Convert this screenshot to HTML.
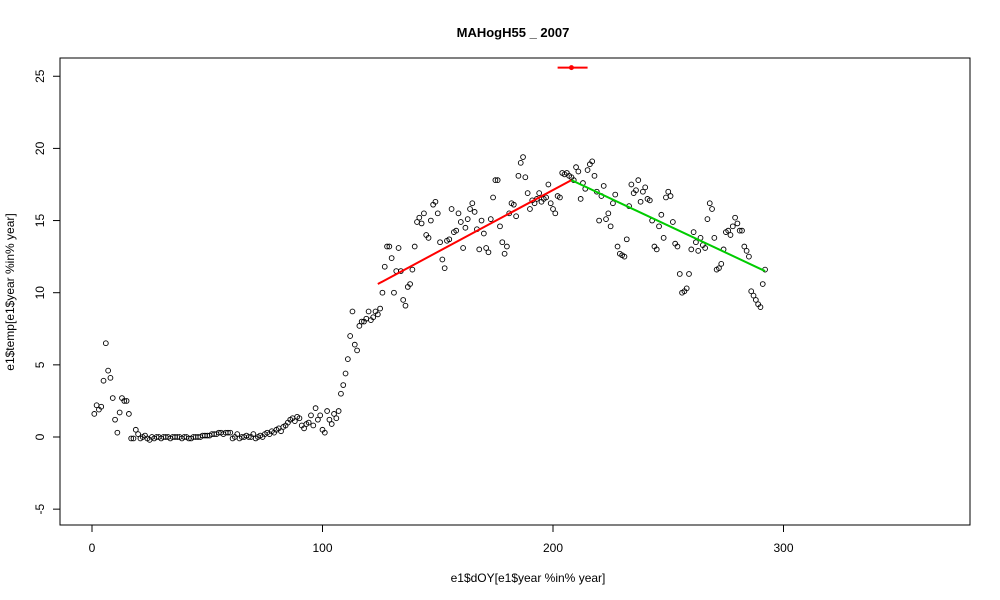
<!DOCTYPE html>
<html><head><meta charset="utf-8"><style>
body{margin:0;background:#fff;}
svg{display:block;font-family:"Liberation Sans",Arial,sans-serif;}
</style></head><body>
<svg id="chart" width="1000" height="600">
<rect x="0" y="0" width="1000" height="600" fill="#fff"/>
<text x="513" y="37" text-anchor="middle" font-weight="bold" font-size="13">MAHogH55 _ 2007</text>
<text x="528" y="582" text-anchor="middle" font-size="12">e1$dOY[e1$year %in% year]</text>
<text transform="translate(14,292) rotate(-90)" text-anchor="middle" font-size="12">e1$temp[e1$year %in% year]</text>
<rect x="60" y="58" width="910" height="467" fill="none" stroke="#000"/>
<g id="axes"></g>
<g id="pts"></g>
<g id="lines"></g>
</svg>
<script>
const xTicks=[0,100,200,300];
const yTicks=[-5,0,5,10,15,20,25];
const startDay=1;
const temps=[1.6,2.2,1.9,2.1,3.9,6.5,4.6,4.1,2.7,1.2,0.3,1.7,2.7,2.5,2.5,1.6,-0.1,-0.1,0.5,0.2,-0.1,
0.0,0.1,-0.1,-0.2,0.0,-0.1,0.0,0.0,-0.1,0.0,0.0,0.0,-0.1,0.0,0.0,0.0,0.0,-0.1,0.0,0.0,-0.1,-0.1,0.0,0.0,0.0,0.0,0.1,0.1,0.1,0.1,0.2,0.2,0.2,0.3,0.3,0.2,0.3,0.3,0.3,
-0.1,0.0,0.2,-0.1,0.0,0.0,0.1,0.0,0.0,0.2,-0.1,0.0,0.1,0.0,0.2,
0.3,0.2,0.4,0.3,0.5,0.6,0.4,0.7,0.8,1.0,1.2,1.3,1.1,1.4,1.3,0.8,0.6,0.9,1.0,1.5,
0.8,2.0,1.2,1.5,0.5,0.3,1.8,1.2,0.9,1.6,1.3,1.8,
3.0,3.6,4.4,5.4,7.0,8.7,6.4,6.0,7.7,8.0,8.0,8.2,8.7,8.1,8.3,8.7,
8.5,8.9,10.0,11.8,13.2,13.2,12.4,10.0,11.5,13.1,11.5,9.5,9.1,10.4,10.6,11.6,13.2,14.9,15.2,14.8,15.5,14.0,
13.8,15.0,16.1,16.3,15.5,13.5,12.3,11.7,13.6,13.7,15.8,14.2,14.3,15.5,14.9,13.1,14.5,15.1,15.8,16.2,15.6,14.4,13.0,
15.0,14.1,13.1,12.8,15.1,16.6,17.8,17.8,14.6,13.5,12.7,13.2,15.5,16.2,16.1,15.3,18.1,19.0,19.4,18.0,16.9,15.8,16.4,
16.2,16.5,16.9,16.3,16.5,16.6,17.5,16.2,15.8,15.5,16.7,16.6,18.3,18.2,18.3,18.1,18.0,17.8,18.7,18.4,16.5,17.6,17.2,18.5,18.9,
19.1,18.1,17.0,15.0,16.7,17.4,15.1,15.5,14.6,16.2,16.8,13.2,12.7,12.6,12.5,13.7,16.0,17.5,16.9,17.1,
17.8,16.3,17.0,17.3,16.5,16.4,15.0,13.2,13.0,14.6,15.4,13.8,16.6,17.0,16.7,14.9,13.4,13.2,11.3,10.0,10.1,10.3,11.3,13.0,14.2,13.5,12.9,
13.8,13.3,13.1,15.1,16.2,15.8,13.8,11.6,11.7,12.0,13.0,14.2,14.3,14.0,14.6,15.2,14.8,14.3,14.3,13.2,12.9,12.5,10.1,9.8,9.5,9.2,9.0,10.6,11.6];
const redFit=[[124,10.6],[208,17.8]];
const greenFit=[[208,17.8],[292,11.5]];
const topPoint=[208,25.6];
const topRange=[202,215];

const sx=d=>92+d*2.305;
const sy=v=>437-v*14.43;
const NS="http://www.w3.org/2000/svg";
function mk(tag,attrs,parent){const e=document.createElementNS(NS,tag);for(const k in attrs)e.setAttribute(k,attrs[k]);parent.appendChild(e);return e;}
const axes=document.getElementById('axes');
mk('line',{x1:sx(xTicks[0]),x2:sx(xTicks[xTicks.length-1]),y1:525,y2:525,stroke:'#000'},axes);
xTicks.forEach(t=>{
  const l=mk('line',{x1:sx(t),x2:sx(t),y1:525,y2:532,stroke:'#000'},axes);
  
  
  const tx=mk('text',{x:sx(t),y:552,'text-anchor':'middle','font-size':12},axes);
  tx.textContent=t;
  
  
});
yTicks.forEach(t=>{
  const l=mk('line',{x1:53,x2:60,y1:sy(t),y2:sy(t),stroke:'#000'},axes);
  
  
  const tx=mk('text',{transform:`translate(44,${sy(t)}) rotate(-90)`,'text-anchor':'middle','font-size':12},axes);
  tx.textContent=t;
  
  
});
const pts=document.getElementById('pts');
temps.forEach((v,i)=>{
  const c=mk('circle',{cx:sx(startDay+i),cy:sy(v),r:2.4,fill:'none',stroke:'#000','stroke-width':0.9},pts);
  
  
});
const lines=document.getElementById('lines');
const r=mk('line',{x1:sx(redFit[0][0]),y1:sy(redFit[0][1]),x2:sx(redFit[1][0]),y2:sy(redFit[1][1]),stroke:'#f00','stroke-width':2},lines);


const g=mk('line',{x1:sx(greenFit[0][0]),y1:sy(greenFit[0][1]),x2:sx(greenFit[1][0]),y2:sy(greenFit[1][1]),stroke:'#0c0','stroke-width':2},lines);


const tr=mk('line',{x1:sx(topRange[0]),x2:sx(topRange[1]),y1:sy(topPoint[1]),y2:sy(topPoint[1]),stroke:'#f00','stroke-width':2},lines);


const tp=mk('circle',{cx:sx(topPoint[0]),cy:sy(topPoint[1]),r:2.5,fill:'#f00'},lines);


</script>
</body></html>
